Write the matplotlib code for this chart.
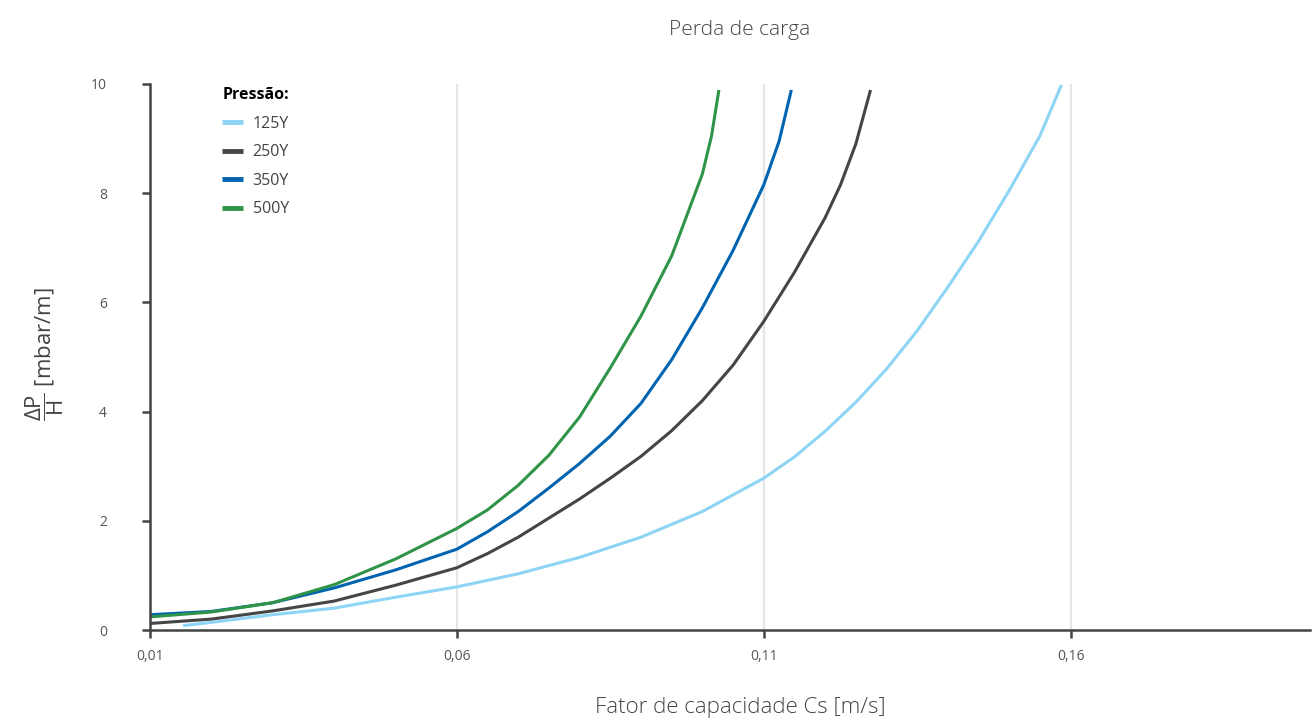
import matplotlib
matplotlib.use("Agg")
import matplotlib.pyplot as plt

plt.rcParams["font.family"] = ["Open Sans", "DejaVu Sans"]
plt.rcParams["mathtext.fontset"] = "custom"
plt.rcParams["mathtext.rm"] = "Open Sans"
plt.rcParams["mathtext.it"] = "Open Sans"

# values
x_125 = [0.0154, 0.020, 0.030, 0.040, 0.050, 0.060, 0.070, 0.080, 0.090, 0.100, 0.110,
         0.115, 0.120, 0.125, 0.130, 0.135, 0.140, 0.145, 0.150, 0.155, 0.1585]
y_125 = [0.08, 0.14, 0.28, 0.40, 0.60, 0.79, 1.03, 1.33, 1.70, 2.17, 2.78,
         3.17, 3.64, 4.17, 4.78, 5.48, 6.28, 7.12, 8.05, 9.05, 9.98]

x_250 = [0.010, 0.020, 0.030, 0.040, 0.050, 0.060, 0.065, 0.070, 0.075, 0.080, 0.085,
         0.090, 0.095, 0.100, 0.105, 0.110, 0.115, 0.120, 0.1225, 0.125, 0.1274]
y_250 = [0.12, 0.20, 0.35, 0.53, 0.82, 1.14, 1.40, 1.70, 2.05, 2.40, 2.78,
         3.18, 3.65, 4.20, 4.85, 5.65, 6.55, 7.55, 8.15, 8.90, 9.89]

x_350 = [0.010, 0.020, 0.030, 0.040, 0.050, 0.060, 0.065, 0.070, 0.075, 0.080, 0.085,
         0.090, 0.095, 0.100, 0.105, 0.110, 0.1125, 0.1145]
y_350 = [0.28, 0.34, 0.50, 0.77, 1.10, 1.48, 1.80, 2.17, 2.60, 3.05, 3.55,
         4.15, 4.95, 5.90, 6.95, 8.15, 8.95, 9.89]

x_500 = [0.010, 0.020, 0.030, 0.040, 0.050, 0.060, 0.065, 0.070, 0.075, 0.080, 0.085,
         0.090, 0.095, 0.100, 0.1015, 0.1027]
y_500 = [0.24, 0.33, 0.50, 0.83, 1.30, 1.86, 2.20, 2.65, 3.20, 3.90, 4.80,
         5.75, 6.85, 8.35, 9.05, 9.89]

labels = ["125Y", "250Y", "350Y", "500Y"]
colors = ["#8dd4f5", "#454545", "#0064b0", "#2f9447"]
xticks = [0.01, 0.06, 0.11, 0.16]
xtick_labels = ["0,01", "0,06", "0,11", "0,16"]
yticks = [0, 2, 4, 6, 8, 10]

fig = plt.figure(figsize=(13.13, 7.22), dpi=100)
ax = fig.add_axes([0.1142, 0.1274, 0.8835, 0.7563])

series = [(x_125, y_125), (x_250, y_250), (x_350, y_350), (x_500, y_500)]
for (xs, ys), lab, c in zip(series, labels, colors):
    ax.plot(xs, ys, color=c, lw=2.2, label=lab, solid_capstyle="butt",
            solid_joinstyle="round")

ax.set_xlim(0.01, 0.199)
ax.set_ylim(0, 10)
ax.set_xticks(xticks)
ax.set_xticklabels(xtick_labels)
ax.set_yticks(yticks)
ax.grid(axis="x", color="#e6e6e6", lw=1.6)
ax.set_axisbelow(True)

for s in ("top", "right"):
    ax.spines[s].set_visible(False)
for s in ("left", "bottom"):
    ax.spines[s].set_color("#444444")
    ax.spines[s].set_linewidth(1.8)
ax.tick_params(axis="both", direction="out", length=6, width=1.8, color="#444444",
               labelsize=10, labelcolor="#555555")
ax.tick_params(axis="y", pad=25)
ax.tick_params(axis="x", pad=8)

leg = ax.legend(title="Pressão:", loc="upper left", bbox_to_anchor=(0.05, 1.02),
                frameon=False, fontsize=11.5, handlelength=1.3, handletextpad=0.6,
                labelspacing=0.78, alignment="left",
                title_fontproperties={"weight": "bold", "size": 11.5})
for t in leg.get_texts():
    t.set_color("#444444")
for h in leg.get_lines():
    h.set_linewidth(3.5)

fig.text(0.5636, 0.958, "Perda de carga", ha="center", va="center", fontsize=15,
         color="#444444", fontweight="light")
fig.text(0.5636, 0.02, "Fator de capacidade Cs [m/s]", ha="center", va="center",
         fontsize=16, color="#444444", fontweight="light")
fig.text(0.034, 0.51, r"$\dfrac{\Delta\mathrm{P}}{\mathrm{H}}$ [mbar/m]", rotation=90,
         ha="center", va="center", fontsize=16, color="#444444")

fig.savefig("out.png", dpi=100)
